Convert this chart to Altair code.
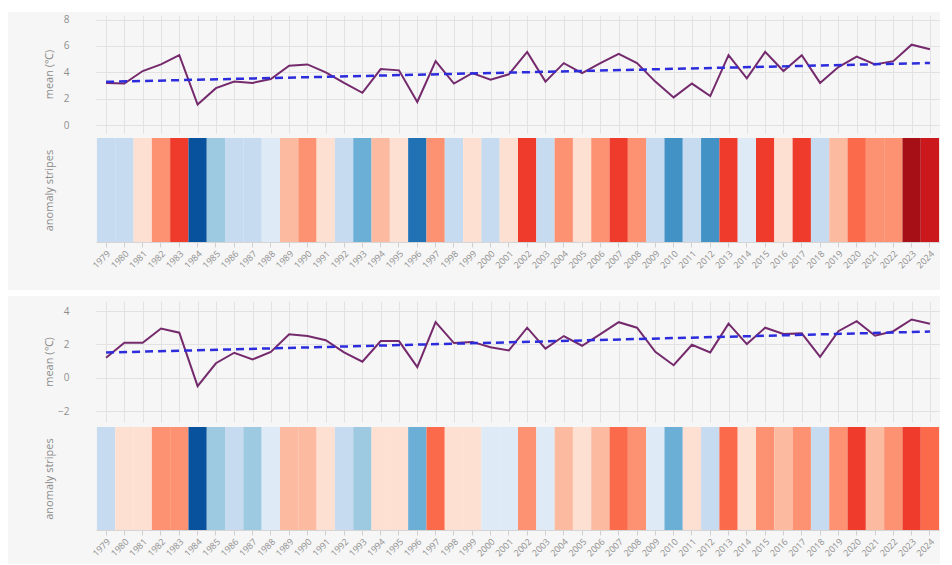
import altair as alt
import pandas as pd

years = list(range(1979, 2025))

top_mean = [3.2, 3.15, 4.1, 4.6, 5.3, 1.56, 2.8, 3.3, 3.2, 3.5,
            4.5, 4.6, 4.0, 3.2, 2.45, 4.25, 4.15, 1.75, 4.85, 3.15,
            3.95, 3.45, 3.85, 5.55, 3.3, 4.7, 3.95, 4.7, 5.4, 4.7,
            3.3, 2.1, 3.15, 2.2, 5.3, 3.55, 5.55, 4.1, 5.3, 3.2,
            4.4, 5.2, 4.6, 4.85, 6.1, 5.75]

bottom_mean = [1.2, 2.1, 2.1, 2.95, 2.7, -0.5, 0.87, 1.5, 1.1, 1.55,
               2.6, 2.5, 2.25, 1.52, 0.96, 2.2, 2.2, 0.64, 3.33, 2.08,
               2.15, 1.83, 1.64, 3.0, 1.75, 2.5, 1.92, 2.62, 3.33, 3.0,
               1.56, 0.75, 1.98, 1.52, 3.24, 2.02, 3.0, 2.62, 2.66, 1.25,
               2.79, 3.39, 2.52, 2.79, 3.49, 3.24]

top_ticks = [0, 2, 4, 6, 8]
bottom_ticks = [-2, 0, 2, 4]

stripe_colors = ["#08519c", "#2171b5", "#4292c6", "#6baed6", "#9ecae1", "#c6dbef", "#deebf7",
                 "#fee0d2", "#fcbba1", "#fc9272", "#fb6a4a", "#ef3b2c", "#cb181d", "#a50f15"]

W = 844
GRID = "#e2e2e2"
LABEL = "#8e8e8e"


def panel(values, ydomain, yticks, cdomain, h_line, h_stripe, white_y):
    df = pd.DataFrame({"year": years, "mean": values, "k": "a"})
    base = alt.Chart(df)
    xq = alt.X("year:Q",
               scale=alt.Scale(domain=[1979 - 0.55, 2024 + 0.55], nice=False, zero=False),
               axis=alt.Axis(values=years, tickCount=100, labels=False, ticks=False, domain=False,
                             grid=True, gridColor=GRID, title=None))
    yq = alt.Y("mean:Q",
               scale=alt.Scale(domain=ydomain, nice=False, zero=False),
               axis=alt.Axis(values=yticks, tickCount=20, format="d", title="mean (℃)",
                             ticks=False, domain=False,
                             grid=True, gridColor=GRID, labelPadding=27, labelOverlap=False,
                             minExtent=36, maxExtent=36, titlePadding=6))
    line = base.mark_line(color="#742a6c", strokeWidth=2).encode(x=xq, y=yq)
    trend = base.transform_regression("year", "mean", method="linear").mark_line(
        color="#2c2cdc", strokeWidth=2.5, strokeDash=[8, 5]).encode(x="year:Q", y="mean:Q")
    white = alt.Chart(alt.Data(values=[{"a": 1}])).mark_rect(color="white").encode(
        x=alt.value(-88), x2=alt.value(W), y=alt.value(white_y[0]), y2=alt.value(white_y[1]))
    top = alt.layer(line, trend, white).properties(width=W, height=h_line)

    stripes = base.mark_rect().encode(
        x=alt.X("year:O",
                scale=alt.Scale(paddingInner=0, paddingOuter=0.05),
                axis=alt.Axis(title=None, labelAngle=315, labelAlign="right", labelBaseline="top",
                              labelFontSize=9, tickSize=5, tickColor="#cfcfcf",
                              domainColor="#d5d5d5", labelPadding=2, labelColor=LABEL,
                              minExtent=34, maxExtent=34)),
        y=alt.Y("k:N",
                scale=alt.Scale(paddingInner=0, paddingOuter=0),
                axis=alt.Axis(title="anomaly stripes", labels=False, ticks=False, domain=False,
                              minExtent=36, maxExtent=36, titlePadding=6)),
        color=alt.Color("mean:Q",
                        scale=alt.Scale(type="quantize", domain=cdomain, range=stripe_colors,
                                        nice=False, zero=False),
                        legend=None),
    ).properties(width=W, height=h_stripe)
    return alt.vconcat(top, stripes, spacing=5).resolve_scale(color="independent")


p1 = panel(top_mean, [-0.6, 8.35], top_ticks, [1.38, 6.28], 118, 104, (-7, -3))
p2 = panel(bottom_mean, [-2.65, 4.6], bottom_ticks, [-0.69, 4.49], 121, 103, (-11, -5))

chart = alt.vconcat(p1, p2, spacing=14).resolve_scale(color="independent").properties(
    padding={"left": 0, "top": 0, "right": 0, "bottom": 0},
    background="#f6f6f6",
).configure_view(stroke=None).configure_axis(
    labelFont="Open Sans", titleFont="Open Sans", labelColor=LABEL, titleColor="#8c8c8c",
    titleFontWeight="normal", titleFontSize=11, labelFontSize=10,
)

chart.save("out.html", embed_options={"renderer": "svg", "actions": False})
